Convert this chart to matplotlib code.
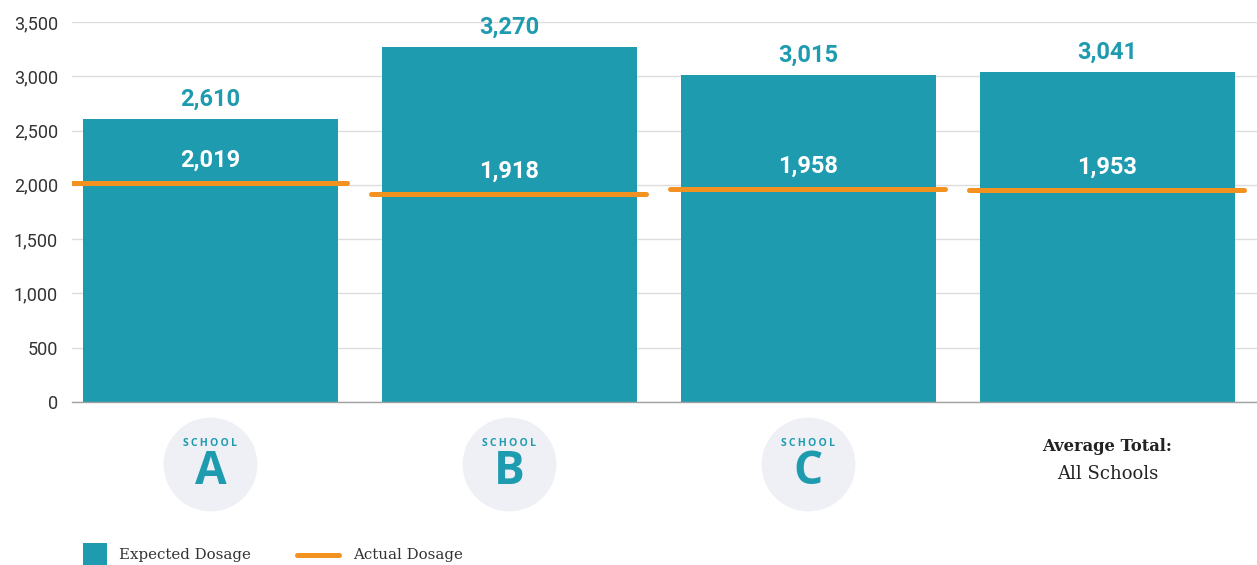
import matplotlib
matplotlib.use("Agg")
import matplotlib.pyplot as plt
from matplotlib.patches import Rectangle
from matplotlib.lines import Line2D
from matplotlib.ticker import FuncFormatter

# Data
groups = ["A", "B", "C", "Average Total"]
expected = [2610, 3270, 3015, 3041]
actual = [2019, 1918, 1958, 1953]
y_ticks = [0, 500, 1000, 1500, 2000, 2500, 3000, 3500]

TEAL = "#1f9bb0"
ORANGE = "#f39221"
CIRCLE = "#eef0f5"
TEXT = "#333333"

fig = plt.figure(figsize=(12.57, 5.65), dpi=100)
ax = fig.add_axes([72 / 1257, 1 - 402 / 565, 1 - 72 / 1257, 380 / 565])

x = list(range(len(groups)))
ax.bar(x, expected, width=0.853, color=TEAL, zorder=2)

for xi, v in zip(x, actual):
    ax.plot([xi - 0.463, xi + 0.456], [v, v], color=ORANGE, lw=3.6,
            solid_capstyle="round", zorder=3)

for xi, e, a in zip(x, expected, actual):
    ax.annotate(f"{e:,}", (xi, e), xytext=(0, 14), textcoords="offset points",
                ha="center", va="center", fontsize=17, fontweight="bold",
                family="Roboto", color=TEAL, annotation_clip=False)
    ax.annotate(f"{a:,}", (xi, a), xytext=(0, 16.5), textcoords="offset points",
                ha="center", va="center", fontsize=17, fontweight="bold",
                family="Roboto", color="white", zorder=4)

ax.set_xlim(-0.463, 3.5)
ax.set_ylim(0, 3500)
ax.set_yticks(y_ticks)
ax.yaxis.set_major_formatter(FuncFormatter(lambda v, p: f"{int(v):,}"))
ax.tick_params(axis="y", length=0, pad=10, labelsize=13, labelcolor=TEXT)
for lab in ax.get_yticklabels():
    lab.set_family("Roboto")
ax.set_xticks([])
ax.grid(axis="y", color="#dcdcdc", lw=1, zorder=0)
ax.set_axisbelow(True)
for s in ["top", "right", "left"]:
    ax.spines[s].set_visible(False)
ax.spines["bottom"].set_color("#a0a0a0")
ax.spines["bottom"].set_linewidth(1)
ax.spines["bottom"].set_zorder(5)

# Category badges below the axis
tr = ax.get_xaxis_transform()
school = "\u2009".join("SCHOOL")
for xi, g in zip(x[:3], groups[:3]):
    ax.plot([xi], [-0.163], marker="o", markersize=67.5, color=CIRCLE,
            markeredgewidth=0, transform=tr, clip_on=False)
    ax.text(xi, -0.108, school, transform=tr, ha="center", va="center",
            fontsize=7.6, fontweight="bold", family=["Open Sans", "DejaVu Sans"],
            color=TEAL)
    ax.text(xi, -0.184, g, transform=tr, ha="center", va="center",
            fontsize=33, fontweight="bold", family="Open Sans", color=TEAL)

ax.text(x[3], -0.118, "Average Total:", transform=tr, ha="center",
        va="center", fontsize=11.8, fontweight="bold", family="DejaVu Serif",
        color="#222222")
ax.text(x[3], -0.189, "All Schools", transform=tr, ha="center",
        va="center", fontsize=13, family="DejaVu Serif", color="#222222")

# Legend
W, H = 1257, 565
fig.add_artist(Rectangle((83 / W, 1 - 567 / H), 24 / W, 24 / H,
                         transform=fig.transFigure, color=TEAL, lw=0))
fig.text(119 / W, 1 - 555 / H, "Expected Dosage", ha="left", va="center",
         fontsize=10.8, family="DejaVu Serif", color=TEXT)
fig.add_artist(Line2D([297 / W, 339 / W], [1 - 555 / H, 1 - 555 / H],
                      transform=fig.transFigure, color=ORANGE, lw=3.6,
                      solid_capstyle="round"))
fig.text(353 / W, 1 - 555 / H, "Actual Dosage", ha="left", va="center",
         fontsize=10.8, family="DejaVu Serif", color=TEXT)

fig.savefig("out.png", dpi=100)
